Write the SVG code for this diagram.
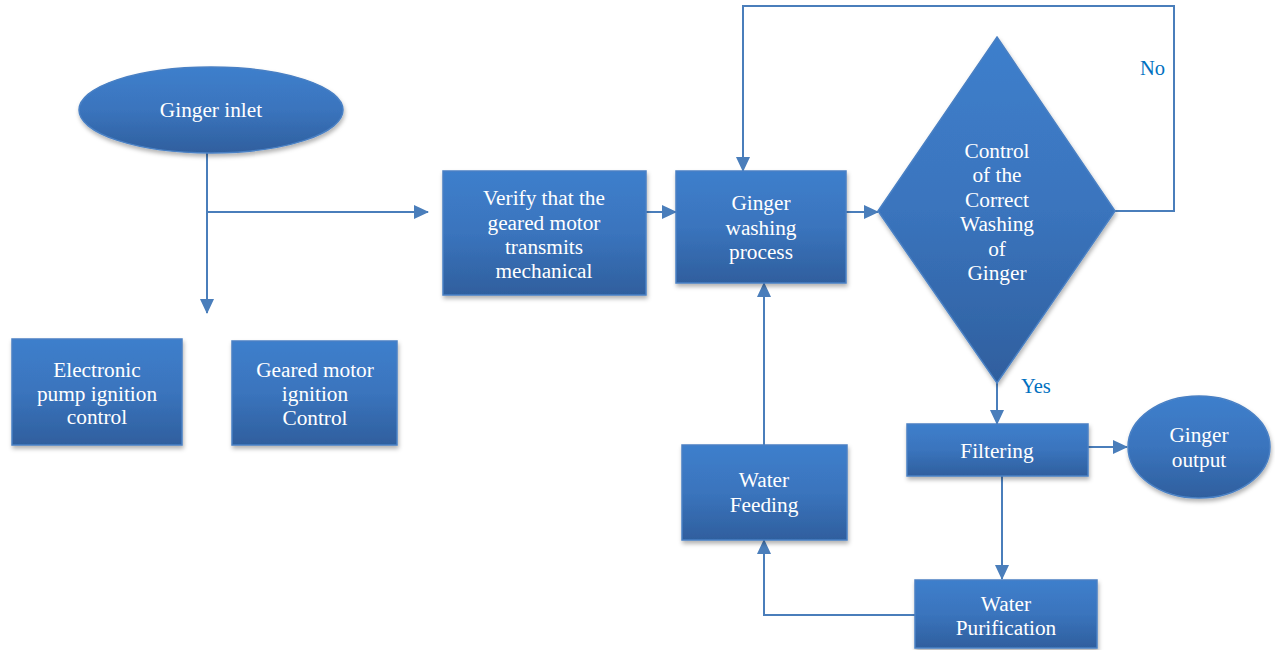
<svg xmlns="http://www.w3.org/2000/svg" width="1275" height="650" viewBox="0 0 1275 650" font-family="Liberation Serif, Times New Roman, serif">
<defs>
<linearGradient id="g" x1="0" y1="0" x2="0" y2="1">
<stop offset="0" stop-color="#3e7fcc"/>
<stop offset="0.5" stop-color="#3a74bd"/>
<stop offset="1" stop-color="#2f5f9e"/>
</linearGradient>
<filter id="sh" x="-10%" y="-10%" width="125%" height="130%">
<feDropShadow dx="1" dy="3" stdDeviation="2" flood-color="#000" flood-opacity="0.3"/>
</filter>
<marker id="ah" markerUnits="userSpaceOnUse" markerWidth="16" markerHeight="16" refX="14" refY="8" orient="auto">
<path d="M0,1 L15,8 L0,15 Z" fill="#4a7ebb"/>
</marker>
<style>
.n{fill:url(#g);stroke:#4a80c4;stroke-width:1.5;filter:url(#sh)}
.t{font-family:'Liberation Serif','Times New Roman',serif;font-size:21.3px;fill:#ffffff;text-anchor:middle}
.c{fill:none;stroke:#4a7ebb;stroke-width:2}
.l{font-family:'Liberation Serif','Times New Roman',serif;font-size:20.5px;fill:#0070c0}
</style>
</defs>
<g id="connectors">
<path class="c" d="M207,152 V313" marker-end="url(#ah)"/>
<path class="c" d="M207,212 H428" marker-end="url(#ah)"/>
<path class="c" d="M646,212 H676" marker-end="url(#ah)"/>
<path class="c" d="M846,212 H878" marker-end="url(#ah)"/>
<path class="c" d="M1115,211 H1174 V6 H743 V171" marker-end="url(#ah)"/>
<path class="c" d="M997,383 V424" marker-end="url(#ah)"/>
<path class="c" d="M1088,447 H1127" marker-end="url(#ah)"/>
<path class="c" d="M1002,476 V579" marker-end="url(#ah)"/>
<path class="c" d="M915,615 H764 V540" marker-end="url(#ah)"/>
<path class="c" d="M764,445 V283" marker-end="url(#ah)"/>
<text class="l" x="1140" y="75">No</text>
<text class="l" x="1021" y="393">Yes</text>
</g>
<g id="ginger-inlet">
<ellipse class="n" cx="211" cy="110" rx="132" ry="43"/>
<text class="t" x="211" y="117">Ginger inlet</text>
</g>
<g id="electronic-pump">
<rect class="n" x="12" y="339" width="170" height="106"/>
<text class="t" x="97" y="377">Electronic</text>
<text class="t" x="97" y="400.5">pump ignition</text>
<text class="t" x="97" y="424">control</text>
</g>
<g id="geared-motor">
<rect class="n" x="232" y="341" width="165" height="104"/>
<text class="t" x="315" y="377">Geared motor</text>
<text class="t" x="315" y="401">ignition</text>
<text class="t" x="315" y="425">Control</text>
</g>
<g id="verify">
<rect class="n" x="443" y="171" width="203" height="124"/>
<text class="t" x="544" y="205">Verify that the</text>
<text class="t" x="544" y="229.5">geared motor</text>
<text class="t" x="544" y="254">transmits</text>
<text class="t" x="544" y="278">mechanical</text>
</g>
<g id="washing">
<rect class="n" x="676" y="171" width="170" height="112"/>
<text class="t" x="761" y="210">Ginger</text>
<text class="t" x="761" y="234.5">washing</text>
<text class="t" x="761" y="259">process</text>
</g>
<g id="control">
<path class="n" d="M997,37 L1115,211 L997,383 L878,211 Z"/>
<text class="t" x="997" y="158">Control</text>
<text class="t" x="997" y="182">of the</text>
<text class="t" x="997" y="207">Correct</text>
<text class="t" x="997" y="231">Washing</text>
<text class="t" x="997" y="256">of</text>
<text class="t" x="997" y="280">Ginger</text>
</g>
<g id="filtering">
<rect class="n" x="907" y="424" width="181" height="52"/>
<text class="t" x="997" y="458">Filtering</text>
</g>
<g id="ginger-output">
<ellipse class="n" cx="1199" cy="447" rx="71" ry="51"/>
<text class="t" x="1199" y="442">Ginger</text>
<text class="t" x="1199" y="467">output</text>
</g>
<g id="water-feeding">
<rect class="n" x="682" y="445" width="165" height="95"/>
<text class="t" x="764" y="487">Water</text>
<text class="t" x="764" y="512">Feeding</text>
</g>
<g id="water-purification">
<rect class="n" x="915" y="580" width="182" height="68"/>
<text class="t" x="1006" y="611">Water</text>
<text class="t" x="1006" y="635">Purification</text>
</g>
</svg>
